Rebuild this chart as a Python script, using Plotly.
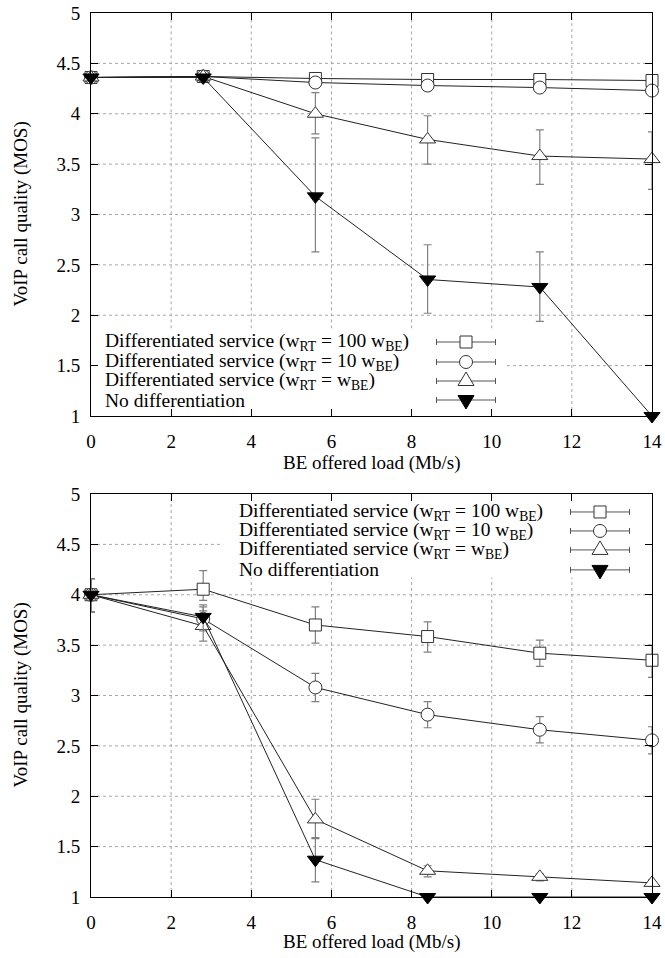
import plotly.graph_objects as go

# ---------------- data ----------------
load = [0, 2.8, 5.6, 8.4, 11.2, 14]

series_names = [
    "Differentiated service (w<sub>RT</sub> = 100 w<sub>BE</sub>)",
    "Differentiated service (w<sub>RT</sub> = 10 w<sub>BE</sub>)",
    "Differentiated service (w<sub>RT</sub> = w<sub>BE</sub>)",
    "No differentiation",
]

# top panel
top_w100 = [4.36, 4.37, 4.35, 4.34, 4.34, 4.33]
top_w100_up = [0.02, 0.02, 0.02, 0.02, 0.02, 0.02]
top_w100_dn = [0.02, 0.02, 0.02, 0.02, 0.02, 0.02]
top_w10 = [4.36, 4.37, 4.31, 4.28, 4.26, 4.23]
top_w10_up = [0.02, 0.02, 0.02, 0.02, 0.02, 0.02]
top_w10_dn = [0.02, 0.02, 0.02, 0.02, 0.02, 0.02]
top_w1 = [4.36, 4.37, 4.00, 3.745, 3.58, 3.55]
top_w1_up = [0.02, 0.02, 0.21, 0.235, 0.26, 0.27]
top_w1_dn = [0.02, 0.02, 0.20, 0.245, 0.28, 0.30]
top_nd = [4.36, 4.36, 3.18, 2.355, 2.28, 1.0]
top_nd_up = [0.02, 0.02, 0.58, 0.345, 0.35, None]
top_nd_dn = [0.02, 0.02, 0.55, 0.335, 0.34, None]

# bottom panel
bot_w100 = [4.0, 4.055, 3.70, 3.585, 3.42, 3.35]
bot_w100_up = [0.16, 0.185, 0.18, 0.145, 0.13, 0.15]
bot_w100_dn = [0.17, 0.11, 0.18, 0.155, 0.13, 0.17]
bot_w10 = [4.0, 3.76, 3.08, 2.81, 2.66, 2.555]
bot_w10_up = [0.16, 0.12, 0.14, 0.13, 0.13, 0.135]
bot_w10_dn = [0.17, 0.12, 0.14, 0.13, 0.13, 0.135]
bot_w1 = [4.0, 3.69, 1.77, 1.26, 1.20, 1.14]
bot_w1_up = [0.16, 0.15, 0.20, 0.05, 0.03, 0.03]
bot_w1_dn = [0.17, 0.15, 0.18, 0.06, 0.04, 0.03]
bot_nd = [4.0, 3.78, 1.37, 1.0, 1.0, 1.0]
bot_nd_up = [0.16, 0.12, 0.21, None, None, None]
bot_nd_dn = [0.17, 0.13, 0.22, None, None, None]

x_ticks = [0, 2, 4, 6, 8, 10, 12, 14]
y_ticks = [1, 1.5, 2, 2.5, 3, 3.5, 4, 4.5, 5]
x_title = "BE offered load (Mb/s)"
y_title = "VoIP call quality (MOS)"

# ---------------- styles ----------------
FONT = "Liberation Serif"
LINE_C = "#222222"
ERR_C = "#808080"
GRID_C = "#a8a8a8"
MK_LINE = "#333333"
styles = [
    dict(symbol="square", size=12, color="white", line=dict(color=MK_LINE, width=1)),
    dict(symbol="circle", size=13, color="white", line=dict(color=MK_LINE, width=1)),
    dict(symbol="triangle-up", size=14, color="white", line=dict(color=MK_LINE, width=1)),
    dict(symbol="triangle-down", size=14, color="black", line=dict(color="black", width=1)),
]

fig = go.Figure()

panels = [
    ("x", "y", [(top_w100, top_w100_up, top_w100_dn), (top_w10, top_w10_up, top_w10_dn),
                (top_w1, top_w1_up, top_w1_dn), (top_nd, top_nd_up, top_nd_dn)]),
    ("x2", "y2", [(bot_w100, bot_w100_up, bot_w100_dn), (bot_w10, bot_w10_up, bot_w10_dn),
                  (bot_w1, bot_w1_up, bot_w1_dn), (bot_nd, bot_nd_up, bot_nd_dn)]),
]

for xa, ya, sers in panels:
    for i, (vals, up, dn) in enumerate(sers):
        fig.add_trace(go.Scatter(
            x=load, y=vals, mode="lines+markers", xaxis=xa, yaxis=ya,
            name=series_names[i], showlegend=False, cliponaxis=False,
            line=dict(color=LINE_C, width=1),
            marker=styles[i],
            error_y=dict(type="data", symmetric=False, array=up, arrayminus=dn,
                         color=ERR_C, thickness=1.2, width=4),
        ))

# ---------------- layout ----------------
W, Hh = 665, 958
ml, mr, mt, mb = 91, 13, 13, 61
PH = Hh - mt - mb
top_dom = [(Hh - mb - 416) / PH, 1.0]
bot_dom = [0.0, (Hh - mb - 494) / PH]
X_RANGE = [0, 14]
Y_RANGE = [1, 5]

axis_common = dict(
    showline=True, linecolor="black", linewidth=1, mirror="ticks",
    ticks="inside", ticklen=7, tickwidth=1, tickcolor="black",
    showgrid=False, zeroline=False, automargin=False,
    tickfont=dict(family=FONT, size=19, color="black"),
)

fig.update_layout(
    width=W, height=Hh, margin=dict(l=ml, r=mr, t=mt, b=mb),
    paper_bgcolor="white", plot_bgcolor="white", showlegend=False,
    xaxis=dict(axis_common, range=X_RANGE, tickvals=x_ticks, anchor="y", domain=[0, 1],
               ticklabelstandoff=8),
    yaxis=dict(axis_common, range=Y_RANGE, tickvals=y_ticks, anchor="x", domain=top_dom,
               ticklabelstandoff=6),
    xaxis2=dict(axis_common, range=X_RANGE, tickvals=x_ticks, anchor="y2", domain=[0, 1],
                ticklabelstandoff=8),
    yaxis2=dict(axis_common, range=Y_RANGE, tickvals=y_ticks, anchor="x2", domain=bot_dom,
                ticklabelstandoff=6),
)

PW = W - ml - mr
PHt = 416 - 13
PHb = 897.5 - 494

# dotted grid, interrupted where the key boxes sit
# key box extents (x0, x1, y0, y1) in data units
key_boxes = {("x", "y"): (0, 10.38, 1, 1.87), ("x2", "y2"): (3.3, 14, 4.17, 5)}
grid_line = dict(color=GRID_C, width=1, dash="dot")
for (xa, ya), (bx0, bx1, by0, by1) in key_boxes.items():
    for t in x_ticks[1:-1]:
        segs = [(Y_RANGE[0], Y_RANGE[1])]
        if bx0 <= t <= bx1:
            segs = [(a, b) for a, b in [(Y_RANGE[0], by0), (by1, Y_RANGE[1])] if b - a > 1e-9]
        for a, b in segs:
            fig.add_shape(type="line", xref=xa, yref=ya, x0=t, x1=t, y0=a, y1=b,
                          line=grid_line, layer="below")
    for t in y_ticks[1:-1]:
        segs = [(X_RANGE[0], X_RANGE[1])]
        if by0 <= t <= by1:
            segs = [(a, b) for a, b in [(X_RANGE[0], bx0), (bx1, X_RANGE[1])] if b - a > 1e-9]
        for a, b in segs:
            fig.add_shape(type="line", xref=xa, yref=ya, x0=a, x1=b, y0=t, y1=t,
                          line=grid_line, layer="below")

# key entries
top_rows = [342, 362, 381, 400]
bot_rows = [512, 531, 550, 570]
keys = [
    ("x", "y", 103, 466, top_rows, 416, PHt),
    ("x2", "y2", 237, 600, bot_rows, 897.5, PHb),
]
HALF = 29.5
for xa, ya, tx, mx, rows, base, ph in keys:
    xr, yr = f"{xa} domain", f"{ya} domain"
    fx = (mx - ml) / PW
    for i, py in enumerate(rows):
        fy = (base - py) / ph
        fig.add_annotation(
            xref=xr, yref=yr, x=(tx - ml) / PW, y=fy,
            text=series_names[i], showarrow=False, xanchor="left", yanchor="middle",
            font=dict(family=FONT, size=19.5, color="black"),
        )
        # sample line with caps
        fig.add_shape(type="line", xref=xr, yref=yr, xsizemode="pixel", xanchor=fx,
                      x0=-HALF, x1=HALF, y0=fy, y1=fy, line=dict(color="#555", width=1))
        for sx in (-HALF, HALF):
            fig.add_shape(type="line", xref=xr, yref=yr, xsizemode="pixel", xanchor=fx,
                          ysizemode="pixel", yanchor=fy,
                          x0=sx, x1=sx, y0=-3, y1=3, line=dict(color="#555", width=1))
        # sample marker
        common = dict(xref=xr, yref=yr, xsizemode="pixel", ysizemode="pixel",
                      xanchor=fx, yanchor=fy)
        if i == 0:
            fig.add_shape(type="rect", x0=-6, x1=6, y0=-6, y1=6, fillcolor="white",
                          line=dict(color=MK_LINE, width=1), **common)
        elif i == 1:
            fig.add_shape(type="circle", x0=-6.5, x1=6.5, y0=-6.5, y1=6.5, fillcolor="white",
                          line=dict(color=MK_LINE, width=1), **common)
        elif i == 2:
            fig.add_shape(type="path", path="M-8,-4.5 L8,-4.5 L0,9 Z", fillcolor="white",
                          line=dict(color=MK_LINE, width=1), **common)
        else:
            fig.add_shape(type="path", path="M-8,4.5 L8,4.5 L0,-9 Z", fillcolor="black",
                          line=dict(color="black", width=1), **common)

# axis titles
for xa, ya, base, ph, xt_py in [("x", "y", 416, PHt, 463), ("x2", "y2", 897.5, PHb, 943)]:
    fig.add_annotation(
        xref=f"{xa} domain", yref=f"{ya} domain", x=0.5, y=(base - xt_py) / ph,
        text=x_title, showarrow=False, xanchor="center", yanchor="middle",
        font=dict(family=FONT, size=19, color="black"),
    )
    fig.add_annotation(
        xref=f"{xa} domain", yref=f"{ya} domain", x=(20 - ml) / PW, y=0.5,
        text=y_title, showarrow=False, xanchor="center", yanchor="middle",
        textangle=-90, font=dict(family=FONT, size=19, color="black"),
    )

fig.write_html("out.html", config={"displayModeBar": False},
               post_script="document.body.style.margin='0';")
